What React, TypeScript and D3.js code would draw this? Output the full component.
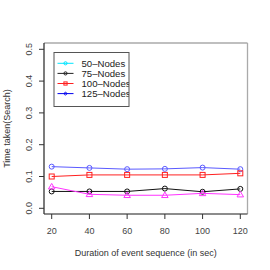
import React, { useEffect, useRef } from 'react';
import * as d3 from 'd3';

const durations = [20, 40, 60, 80, 100, 120];
const yTicks = [0, 0.1, 0.2, 0.3, 0.4, 0.5];
const legendLabels = ['50-Nodes', '75-Nodes', '100-Nodes', '125-Nodes'];
const legendColors = ['#00e5ff', '#222222', '#ff2020', '#0000ee'];
const legendShapes = ['circle', 'circle', 'square', 'diamond'];

const blueVals = [0.131, 0.127, 0.123, 0.124, 0.128, 0.123];
const redVals = [0.100, 0.105, 0.105, 0.105, 0.105, 0.110];
const blackVals = [0.053, 0.053, 0.053, 0.062, 0.052, 0.061];
const magentaVals = [0.068, 0.044, 0.041, 0.041, 0.047, 0.043];

const series = [
  { vals: blueVals, color: '#5a5aff', shape: 'circle' },
  { vals: redVals, color: '#ff2020', shape: 'square' },
  { vals: blackVals, color: '#111111', shape: 'circle' },
  { vals: magentaVals, color: '#ff33ff', shape: 'triangle' },
];

export default function App() {
  const svgRef = useRef<SVGSVGElement>(null);

  useEffect(() => {
    const svg = d3.select(svgRef.current);
    svg.selectAll('*').remove();
    const font = 'Liberation Sans, Arial, sans-serif';

    const x = d3.scaleLinear().domain([20, 120]).range([51.7, 240.3]);
    const y = d3.scaleLinear().domain([0, 0.5]).range([208.3, 49.3]);
    const box = { l: 44, t: 43, r: 247.5, b: 214 };

    // plot box
    svg.append('line').attr('x1', box.l).attr('x2', box.r).attr('y1', box.t).attr('y2', box.t)
      .attr('stroke', '#aaa').attr('stroke-width', 1.3);
    svg.append('line').attr('x1', box.r).attr('x2', box.r).attr('y1', box.t).attr('y2', box.b)
      .attr('stroke', '#aaa').attr('stroke-width', 1.3);
    svg.append('line').attr('x1', box.l).attr('x2', box.r).attr('y1', box.b).attr('y2', box.b)
      .attr('stroke', '#666').attr('stroke-width', 1.3);
    svg.append('line').attr('x1', box.l).attr('x2', box.l).attr('y1', box.t).attr('y2', box.b)
      .attr('stroke', '#333').attr('stroke-width', 1.3);

    // y axis ticks
    yTicks.forEach((t) => {
      svg.append('line').attr('x1', box.l - 5).attr('x2', box.l).attr('y1', y(t)).attr('y2', y(t))
        .attr('stroke', '#333').attr('stroke-width', 1);
      svg.append('text')
        .attr('transform', `translate(32,${y(t)}) rotate(-90)`)
        .attr('text-anchor', 'middle')
        .attr('font-family', font).attr('font-size', 9).attr('fill', '#444')
        .text(d3.format('.1f')(t));
    });

    // x axis ticks
    durations.forEach((t) => {
      svg.append('line').attr('x1', x(t)).attr('x2', x(t)).attr('y1', box.b).attr('y2', box.b + 5)
        .attr('stroke', '#333').attr('stroke-width', 1);
      svg.append('text')
        .attr('x', x(t)).attr('y', 234)
        .attr('text-anchor', 'middle')
        .attr('font-family', font).attr('font-size', 9).attr('fill', '#444')
        .text(t);
    });

    svg.append('text')
      .attr('x', (box.l + box.r) / 2).attr('y', 256)
      .attr('text-anchor', 'middle')
      .attr('font-family', font).attr('font-size', 9).attr('fill', '#333')
      .text('Duration of event sequence (in sec)');

    svg.append('text')
      .attr('transform', `translate(10,${(box.t + box.b) / 2}) rotate(-90)`)
      .attr('text-anchor', 'middle')
      .attr('font-family', font).attr('font-size', 9).attr('fill', '#333')
      .text('Time taken(Search)');

    const drawMarker = (g: any, shape: string, cx: number, cy: number, color: string, s: number) => {
      if (shape === 'circle') {
        g.append('circle').attr('cx', cx).attr('cy', cy).attr('r', s)
          .attr('fill', 'none').attr('stroke', color).attr('stroke-width', 1);
      } else if (shape === 'square') {
        g.append('rect').attr('x', cx - s).attr('y', cy - s).attr('width', 2 * s).attr('height', 2 * s)
          .attr('fill', 'none').attr('stroke', color).attr('stroke-width', 1);
      } else if (shape === 'triangle') {
        const h = s * 1.3;
        g.append('path')
          .attr('d', `M${cx},${cy - h}L${cx + h},${cy + h * 0.7}L${cx - h},${cy + h * 0.7}Z`)
          .attr('fill', 'none').attr('stroke', color).attr('stroke-width', 1);
      } else if (shape === 'diamond') {
        g.append('path')
          .attr('d', `M${cx},${cy - s}L${cx + s},${cy}L${cx},${cy + s}L${cx - s},${cy}Z`)
          .attr('fill', 'none').attr('stroke', color).attr('stroke-width', 1);
      }
    };

    const line = d3.line<number>().x((_, i) => x(durations[i])).y((d) => y(d));
    series.forEach((s) => {
      const g = svg.append('g');
      g.append('path').attr('d', line(s.vals)).attr('fill', 'none')
        .attr('stroke', s.color).attr('stroke-width', 1);
      s.vals.forEach((v, i) => drawMarker(g, s.shape, x(durations[i]), y(v), s.color, 2.5));
    });

    // legend (text runs into the right border, as in the original)
    svg.append('defs').append('clipPath').attr('id', 'legclip')
      .append('rect').attr('x', 54).attr('y', 52.5).attr('width', 75).attr('height', 54);
    const lg = svg.append('g');
    lg.append('rect').attr('x', 54).attr('y', 52.5).attr('width', 75).attr('height', 54)
      .attr('fill', 'white');
    const lt = lg.append('g').attr('clip-path', 'url(#legclip)');
    legendLabels.forEach((lab, i) => {
      const ly = 63.3 + i * 10.1;
      lg.append('line').attr('x1', 57.5).attr('x2', 73.5).attr('y1', ly).attr('y2', ly)
        .attr('stroke', legendColors[i]).attr('stroke-width', 1);
      drawMarker(lg, legendShapes[i], 65.5, ly, legendColors[i], 1.6);
      lt.append('text').attr('x', 81.5).attr('y', ly + 3.3)
        .attr('font-family', font).attr('font-size', 9.6).attr('fill', '#222')
        .text(lab.replace('-', '\u2013'));
    });
    lg.append('rect').attr('x', 54).attr('y', 52.5).attr('width', 75).attr('height', 54)
      .attr('fill', 'none').attr('stroke', '#555').attr('stroke-width', 1);
  }, []);

  return (
    <svg ref={svgRef} width={270} height={270}
      style={{ position: 'absolute', left: 0, top: 0, background: 'white' }} />
  );
}
